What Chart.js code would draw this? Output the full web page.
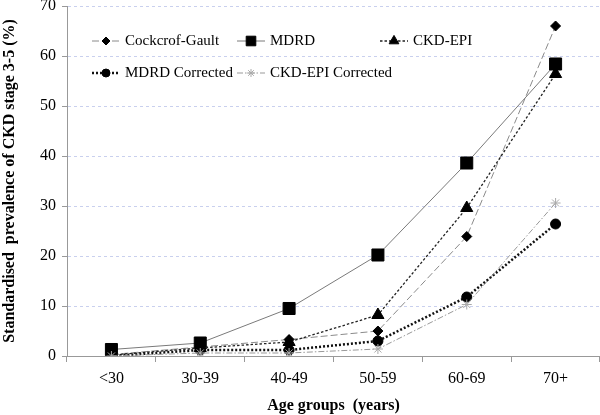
<!DOCTYPE html>
<html>
<head>
<meta charset="utf-8">
<script src="https://cdn.jsdelivr.net/npm/chart.js@4/dist/chart.umd.min.js"></script>
<style>
  html, body { margin: 0; padding: 0; background: #fff; }
  #wrap { width: 600px; height: 415px; position: relative; }
</style>
</head>
<body>
<div id="wrap"><canvas id="prevChart"></canvas></div>
<script>
const ageGroups = ['<30', '30-39', '40-49', '50-59', '60-69', '70+'];
const cockcroftGault = [0.3, 1.8, 3.3, 5.0, 23.9, 66.0];
const mdrd = [1.3, 2.6, 9.5, 20.2, 38.6, 58.4];
const ckdEpi = [0.2, 1.6, 2.8, 8.2, 29.6, 56.4];
const mdrdCorrected = [0.0, 1.2, 1.2, 3.0, 11.8, 26.4];
const ckdEpiCorrected = [0.0, 0.6, 0.6, 1.4, 10.3, 30.6];
const yTicks = [0, 10, 20, 30, 40, 50, 60, 70];

const serif = '"Liberation Serif", "Times New Roman", serif';

const series = [
    { label: 'Cockcrof-Gault', data: cockcroftGault, color: '#8a8a8a', width: 1, dash: [7, 3],
      point: 'rectRot', radius: 5, pointColor: '#000', lx: 92, ly: 41 },
    { label: 'MDRD', data: mdrd, color: '#7a7a7a', width: 1, dash: [],
      point: 'rect', radius: 8.5, pointColor: '#000', lx: 237, ly: 41 },
    { label: 'CKD-EPI', data: ckdEpi, color: '#222', width: 1.3, dash: [2.5, 2],
      point: 'triangle', radius: 7, pointColor: '#000', lx: 380, ly: 41 },
    { label: 'MDRD Corrected', data: mdrdCorrected, color: '#111', width: 2.5, dash: [2, 2],
      point: 'circle', radius: 5, pointColor: '#000', lx: 92, ly: 73 },
    { label: 'CKD-EPI Corrected', data: ckdEpiCorrected, color: '#999', width: 1, dash: [6, 2, 1.5, 2],
      point: 'star', radius: 5, pointColor: '#aaa', lx: 237, ly: 73 }
];

// legend drawn inside the plot area, two rows
const insideLegend = {
    id: 'insideLegend',
    afterDraw(chart) {
        const ctx = chart.ctx;
        series.forEach(s => {
            ctx.save();
            ctx.strokeStyle = s.color;
            ctx.lineWidth = s.width;
            ctx.setLineDash(s.dash);
            ctx.beginPath();
            ctx.moveTo(s.lx, s.ly);
            ctx.lineTo(s.lx + 28, s.ly);
            ctx.stroke();
            ctx.setLineDash([]);
            ctx.fillStyle = s.pointColor;
            ctx.strokeStyle = s.pointColor;
            ctx.lineWidth = 1;
            Chart.helpers.drawPoint(ctx, {
                pointStyle: s.point,
                radius: s.radius * 0.8,
                rotation: 0,
                borderWidth: 1
            }, s.lx + 14, s.ly);
            ctx.fillStyle = '#000';
            ctx.font = '15px ' + serif;
            ctx.textBaseline = 'middle';
            ctx.textAlign = 'left';
            ctx.fillText(s.label, s.lx + 33, s.ly);
            ctx.restore();
        });
    }
};

const ctx = document.getElementById('prevChart').getContext('2d');
new Chart(ctx, {
    type: 'line',
    data: {
        labels: ageGroups,
        datasets: series.map(s => ({
            label: s.label,
            data: s.data,
            borderColor: s.color,
            borderWidth: s.width,
            borderDash: s.dash,
            pointStyle: s.point,
            pointRadius: s.radius,
            pointHoverRadius: s.radius,
            pointBackgroundColor: s.pointColor,
            pointBorderColor: s.pointColor,
            pointBorderWidth: 1,
            tension: 0,
            fill: false
        })).reverse()
    },
    options: {
        responsive: true,
        maintainAspectRatio: false,
        animation: false,
        layout: { autoPadding: false, padding: { top: 6, right: 0, left: 0, bottom: 0 } },
        plugins: {
            legend: { display: false },
            tooltip: { enabled: false }
        },
        scales: {
            x: {
                offset: true,
                grid: {
                    offset: true,
                    drawOnChartArea: false,
                    tickLength: 6,
                    tickColor: '#999'
                },
                border: { color: '#999' },
                ticks: {
                    color: '#000',
                    font: { family: serif, size: 16 },
                    padding: 7,
                    maxRotation: 0
                },
                title: {
                    display: true,
                    text: 'Age groups  (years)',
                    color: '#000',
                    font: { family: serif, size: 16, weight: 'bold' },
                    padding: { top: 8, bottom: 0 }
                },
                afterFit(scale) {
                    scale.height = 59;
                    scale.paddingLeft = 0;
                    scale.paddingRight = 0;
                }
            },
            y: {
                min: 0,
                max: 70,
                afterBuildTicks(scale) {
                    scale.ticks = yTicks.map(v => ({ value: v }));
                },
                grid: {
                    color: '#c9d0ee',
                    tickColor: '#999',
                    tickLength: 5,
                    tickBorderDash: []
                },
                border: { color: '#999', dash: [3, 3] },
                ticks: {
                    color: '#000',
                    font: { family: serif, size: 16 },
                    padding: 6
                },
                title: {
                    display: true,
                    text: 'Standardised  prevalence of CKD stage 3-5 (%)',
                    color: '#000',
                    font: { family: serif, size: 16, weight: 'bold' },
                    padding: { top: 0, bottom: 2 }
                },
                afterFit(scale) {
                    scale.width = 67;
                    scale.paddingTop = 0;
                    scale.paddingBottom = 0;
                }
            }
        }
    },
    plugins: [insideLegend]
});
</script>
</body>
</html>
